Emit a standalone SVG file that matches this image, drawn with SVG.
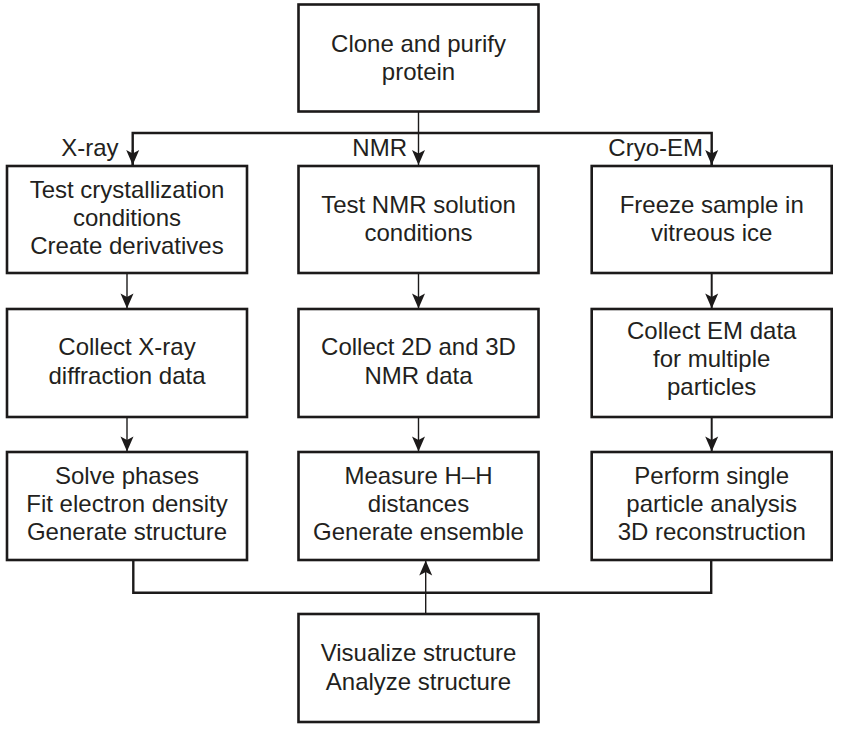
<svg xmlns="http://www.w3.org/2000/svg" width="841" height="730" viewBox="0 0 841 730">
<style>
.box{fill:#fff;stroke:#1c1a1a;stroke-width:2.6}
.t{font-family:"Liberation Sans",Arial,sans-serif;font-size:24px;fill:#231f20;text-anchor:middle}
.lbl{font-family:"Liberation Sans",Arial,sans-serif;font-size:24px;fill:#231f20;text-anchor:end}
.thin{fill:none;stroke:#1c1a1a;stroke-width:1.4}
.med{fill:none;stroke:#1c1a1a;stroke-width:2}
.thick{fill:none;stroke:#1c1a1a;stroke-width:2.4}
</style>
<defs>
<marker id="ah" markerUnits="userSpaceOnUse" markerWidth="18" markerHeight="16" viewBox="-16 -8 18 16" refX="0" refY="0" orient="auto" overflow="visible">
<path d="M0,0 L-15,-6.5 L-11.5,0 L-15,6.5 Z" fill="#1c1a1a"/>
</marker>
</defs>
<rect width="841" height="730" fill="#fff"/>
<g id="connectors">
<line class="thin" x1="418.5" y1="112" x2="418.5" y2="165" marker-end="url(#ah)"/>
<polyline class="thick" points="132.7,165 132.7,133 711.7,133 711.7,165"/>
<line class="med" x1="132.7" y1="150" x2="132.7" y2="165" marker-end="url(#ah)"/>
<line class="med" x1="711.7" y1="150" x2="711.7" y2="165" marker-end="url(#ah)"/>
<line class="thin" x1="127" y1="273" x2="127" y2="308.5" marker-end="url(#ah)"/>
<line class="thin" x1="418.5" y1="273" x2="418.5" y2="308.5" marker-end="url(#ah)"/>
<line class="med" x1="711.7" y1="273" x2="711.7" y2="308.5" marker-end="url(#ah)"/>
<line class="thin" x1="127" y1="417" x2="127" y2="451.5" marker-end="url(#ah)"/>
<line class="thin" x1="418.5" y1="417" x2="418.5" y2="451.5" marker-end="url(#ah)"/>
<line class="med" x1="711.7" y1="417" x2="711.7" y2="451.5" marker-end="url(#ah)"/>
<polyline class="thick" points="133.3,560 133.3,592.7 711.2,592.7 711.2,560"/>
<line class="thin" x1="425.7" y1="614" x2="425.7" y2="560.5" marker-end="url(#ah)"/>
</g>
<g id="labels">
<text class="lbl" x="118.5" y="155.5">X-ray</text>
<text class="lbl" x="407" y="156">NMR</text>
<text class="lbl" x="703" y="156">Cryo-EM</text>
</g>
<g id="n-clone">
<rect class="box" x="298.5" y="4.5" width="240" height="107"/>
<text class="t" x="418.5" y="51.5">Clone and purify</text>
<text class="t" x="418.5" y="80">protein</text>
</g>
<g id="n-xray1">
<rect class="box" x="7" y="166" width="240" height="107"/>
<text class="t" x="127" y="197.5">Test crystallization</text>
<text class="t" x="127" y="225.5">conditions</text>
<text class="t" x="127" y="253.5">Create derivatives</text>
</g>
<g id="n-nmr1">
<rect class="box" x="298.5" y="166" width="240" height="107"/>
<text class="t" x="418.5" y="212.5">Test NMR solution</text>
<text class="t" x="418.5" y="241">conditions</text>
</g>
<g id="n-em1">
<rect class="box" x="591.7" y="166" width="240" height="107"/>
<text class="t" x="711.7" y="212.5">Freeze sample in</text>
<text class="t" x="711.7" y="241">vitreous ice</text>
</g>
<g id="n-xray2">
<rect class="box" x="7" y="309" width="240" height="108"/>
<text class="t" x="127" y="355">Collect X-ray</text>
<text class="t" x="127" y="383.5">diffraction data</text>
</g>
<g id="n-nmr2">
<rect class="box" x="298.5" y="309" width="240" height="108"/>
<text class="t" x="418.5" y="355">Collect 2D and 3D</text>
<text class="t" x="418.5" y="383.5">NMR data</text>
</g>
<g id="n-em2">
<rect class="box" x="591.7" y="309" width="240" height="108"/>
<text class="t" x="711.7" y="338.5">Collect EM data</text>
<text class="t" x="711.7" y="367">for multiple</text>
<text class="t" x="711.7" y="395">particles</text>
</g>
<g id="n-xray3">
<rect class="box" x="7" y="452" width="240" height="108"/>
<text class="t" x="127" y="483.5">Solve phases</text>
<text class="t" x="127" y="512">Fit electron density</text>
<text class="t" x="127" y="540">Generate structure</text>
</g>
<g id="n-nmr3">
<rect class="box" x="298.5" y="452" width="240" height="108"/>
<text class="t" x="418.5" y="483.5">Measure H–H</text>
<text class="t" x="418.5" y="512">distances</text>
<text class="t" x="418.5" y="540">Generate ensemble</text>
</g>
<g id="n-em3">
<rect class="box" x="591.7" y="452" width="240" height="108"/>
<text class="t" x="711.7" y="483.5">Perform single</text>
<text class="t" x="711.7" y="512">particle analysis</text>
<text class="t" x="711.7" y="540">3D reconstruction</text>
</g>
<g id="n-visualize">
<rect class="box" x="298.5" y="614" width="240" height="108"/>
<text class="t" x="418.5" y="661">Visualize structure</text>
<text class="t" x="418.5" y="689.5">Analyze structure</text>
</g>
</svg>
